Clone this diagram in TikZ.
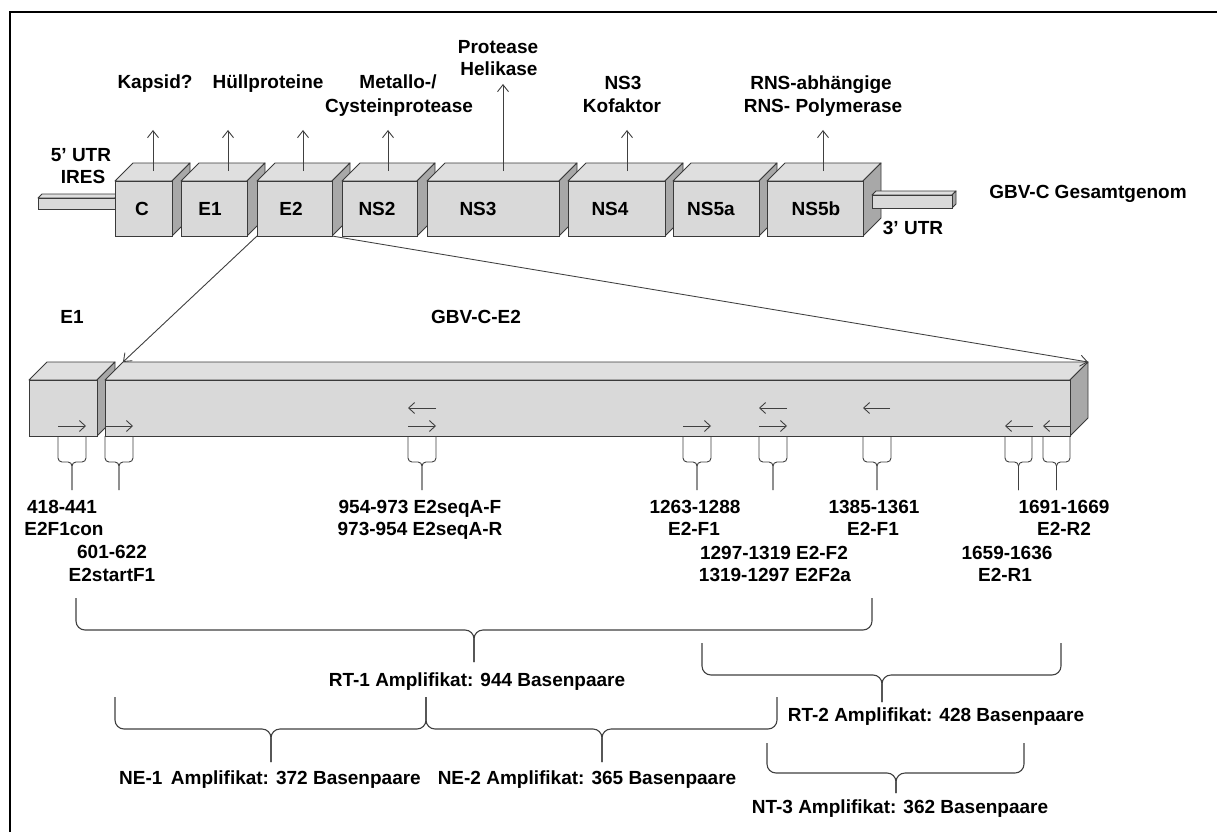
\documentclass[tikz,border=0pt]{standalone}
\usepackage{fontspec}
\setmainfont{Liberation Sans}
\usetikzlibrary{arrows.meta,calc}
\definecolor{facefront}{HTML}{D9D9D9}
\definecolor{facetop}{HTML}{DFDFDF}
\definecolor{faceside}{HTML}{A8A8A8}
\definecolor{edge}{HTML}{3A3A3A}
\definecolor{ink}{HTML}{404040}
\tikzset{
  lbl/.style={font=\bfseries\fontsize{19}{22}\selectfont, inner sep=0pt, outer sep=0pt, text height=13.6pt, text depth=0pt},
  frontface/.style={draw=edge, fill=facefront, line width=0.9pt, inner sep=0pt, outer sep=0pt, anchor=north west},
  topface/.style={draw=edge, fill=facetop, line width=0.9pt, line join=round},
  sideface/.style={draw=edge, fill=faceside, line width=0.9pt, line join=round},
  uparrow/.style={draw=ink, line width=0.9pt, -{Straight Barb[length=7pt,width=11pt]}},
  primer/.style={draw=ink, line width=0.9pt, -{Straight Barb[length=6pt,width=11pt]}},
  bracket/.style={draw=ink, line width=0.9pt, rounded corners=4pt},
  bigbrace/.style={draw=ink, line width=1.1pt, rounded corners=9pt},
}
% name, x1, x2, y1 (top of front), y2 (bottom of front), depth
\newcommand{\gcube}[6]{%
  \path[topface] (#2,#4) -- (#2+#6,#4-#6) -- (#3+#6,#4-#6) -- (#3,#4) -- cycle;
  \path[sideface] (#3,#4) -- (#3+#6,#4-#6) -- (#3+#6,#5-#6) -- (#3,#5) -- cycle;
  \node[frontface, minimum width={(#3-#2)*1pt}, minimum height={(#5-#4)*1pt}] (#1) at (#2,#4) {};
  \coordinate (#1-bl) at (#2+#6,#4-#6);
  \coordinate (#1-br) at (#3+#6,#4-#6);
}
% primer bracket: xleft, xright
\newcommand{\pbr}[2]{%
  \draw[bracket] (#1,436) -- (#1,462) -- ({(#1+#2)/2},462) -- ({(#1+#2)/2},490);
  \draw[bracket] (#2,436) -- (#2,462) -- ({(#1+#2)/2},462) -- ({(#1+#2)/2},490);
}
% big brace: xl, xc, xr, ytop, yh, ytip
\newcommand{\bbr}[6]{%
  \draw[bigbrace] (#1,#4) -- (#1,#5) -- (#2,#5) -- (#2,#6);
  \draw[bigbrace] (#3,#4) -- (#3,#5) -- (#2,#5) -- (#2,#6);
}
\begin{document}
\begin{tikzpicture}[x=1pt,y=-1pt]
\useasboundingbox (0,0) rectangle (1217,832);
\fill[white] (0,0) rectangle (1217,832);
\draw[line width=2pt] (10,832) -- (10,12) -- (1217,12);

% ---- genome row ----
\gcube{utrfive}{38}{115}{198}{209}{4}
\gcube{boxC}{115}{172}{181}{236}{18}
\gcube{boxEa}{181}{247}{181}{236}{18}
\gcube{boxEb}{257}{332}{181}{236}{18}
\gcube{boxNSb}{342}{417}{181}{236}{18}
\gcube{boxNSc}{427}{559}{181}{236}{18}
\gcube{boxNSd}{568}{665}{181}{236}{18}
\gcube{boxNSea}{673}{759}{181}{236}{18}
\gcube{boxNSeb}{767}{863}{181}{236}{18}
\gcube{utrthree}{872}{952}{195}{208}{4}

\node[lbl] (tC) at (142,209) {C};
\node[lbl] (tE1) at (210,209) {E1};
\node[lbl] (tE2) at (291,209) {E2};
\node[lbl] (tNS2) at (377,209) {NS2};
\node[lbl] (tNS3) at (478,209) {NS3};
\node[lbl] (tNS4) at (610,209) {NS4};
\node[lbl] (tNS5a) at (711,209) {NS5a};
\node[lbl] (tNS5b) at (816,209) {NS5b};

\node[lbl] (kapsid) at (155,82) {Kapsid?};
\node[lbl] (huell) at (268,82) {Hüllproteine};
\node[lbl] (metallo) at (398,82) {Metallo-/};
\node[lbl] (cystein) at (399,106) {Cysteinprotease};
\node[lbl] (protease) at (498,47) {Protease};
\node[lbl] (helikase) at (499,69) {Helikase};
\node[lbl] (nsdrei) at (623,83) {NS3};
\node[lbl] (kofaktor) at (622,106) {Kofaktor};
\node[lbl] (rnsa) at (821,83) {RNS-abhängige};
\node[lbl] (rnsp) at (823,106) {RNS- Polymerase};
\node[lbl] (utrfivea) at (81,155) {5' UTR};
\node[lbl] (utrfiveb) at (83,177) {IRES};
\node[lbl] (gesamt) at (1088,192) {GBV-C Gesamtgenom};
\node[lbl] (utrthreel) at (913,228) {3' UTR};

\foreach \n/\x/\t in {C/153/130, Ea/228/130, Eb/303/130, NSb/388/130, NSc/503/84, NSd/627/130, NSeb/823/130}{
  \coordinate (s\n) at (\x,171);
  \coordinate (e\n) at (\x,\t);
  \draw[uparrow] (s\n) -- (e\n);
}

% ---- E2 detail ----
\node[lbl] (le1) at (72,317) {E1};
\node[lbl] (lgbv) at (476,317) {GBV-C-E2};
\gcube{smallE}{29}{97}{380}{436}{18}
\gcube{etwobar}{105}{1070}{380}{436}{18}
\draw[uparrow] (boxEb.south west) -- (etwobar-bl);
\draw[uparrow] (boxEb.south east) -- (etwobar-br);

% primer arrows
\draw[primer] (58,426) -- (86,426);
\draw[primer] (105,426) -- (133,426);
\draw[primer] (436,408) -- (408,408);
\draw[primer] (408,426) -- (436,426);
\draw[primer] (683,426) -- (711,426);
\draw[primer] (787,408) -- (759,408);
\draw[primer] (759,426) -- (787,426);
\draw[primer] (890,408) -- (863,408);
\draw[primer] (1033,426) -- (1005,426);
\draw[primer] (1070,426) -- (1043,426);

% primer brackets
\pbr{58}{86}
\pbr{105}{133}
\pbr{408}{436}
\pbr{683}{711}
\pbr{759}{787}
\pbr{863}{891}
\pbr{1005}{1032}
\pbr{1043}{1070}

% primer labels
\node[lbl] (pa1) at (62,507) {418-441};
\node[lbl] (pa2) at (64,529) {E2F1con};
\node[lbl] (pb1) at (112,552) {601-622};
\node[lbl] (pb2) at (112,575) {E2startF1};
\node[lbl] (pc1) at (420,507) {954-973 E2seqA-F};
\node[lbl] (pc2) at (420,529) {973-954 E2seqA-R};
\node[lbl] (pd1) at (695,507) {1263-1288};
\node[lbl] (pd2) at (694,529) {E2-F1};
\node[lbl] (pe1) at (874,507) {1385-1361};
\node[lbl] (pe2) at (873,529) {E2-F1};
\node[lbl] (pf1) at (774,553) {1297-1319 E2-F2};
\node[lbl] (pf2) at (775,575) {1319-1297 E2F2a};
\node[lbl] (pg1) at (1064,507) {1691-1669};
\node[lbl] (pg2) at (1064,529) {E2-R2};
\node[lbl] (ph1) at (1007,553) {1659-1636};
\node[lbl] (ph2) at (1005,575) {E2-R1};

% amplicon braces
\bbr{76}{474}{872}{598}{630}{662}
\bbr{702}{882}{1061}{643}{675}{702}
\bbr{115}{271}{426}{697}{729}{762}
\bbr{426}{602}{777}{697}{729}{762}
\bbr{767}{896}{1024}{743}{773}{793}

\node[lbl] (rtone) at (477,680) {RT-1 Amplifikat: 944 Basenpaare};
\node[lbl] (rttwo) at (936,715) {RT-2 Amplifikat: 428 Basenpaare};
\node[lbl] (neone) at (270,778) {NE-1\, Amplifikat: 372 Basenpaare};
\node[lbl] (netwo) at (587,778) {NE-2 Amplifikat: 365 Basenpaare};
\node[lbl] (ntthree) at (900,807) {NT-3 Amplifikat: 362 Basenpaare};
\end{tikzpicture}
\end{document}
